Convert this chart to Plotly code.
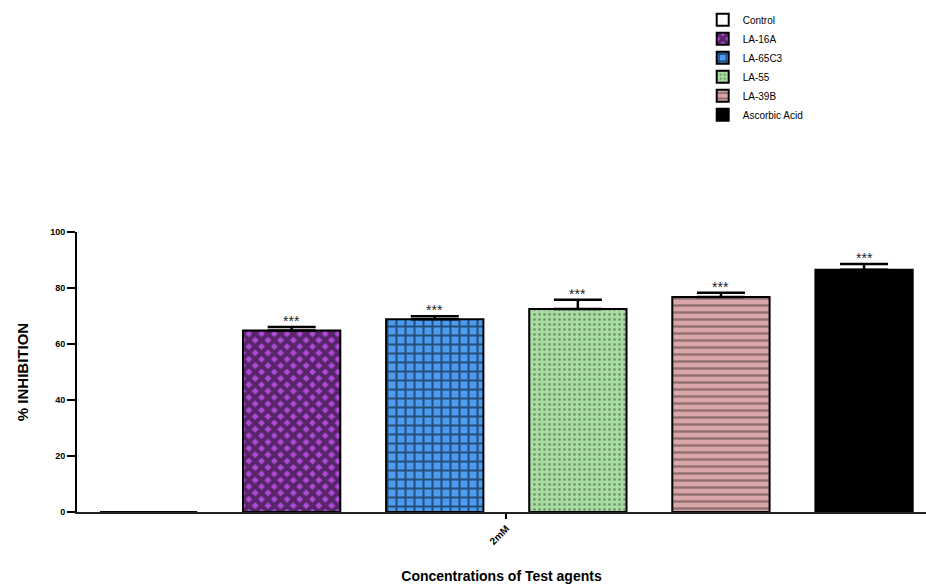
import plotly.graph_objects as go

# Test agents, % inhibition at 2 mM (mean and SEM)
agents = ["Control", "LA-16A", "LA-65C3", "LA-55", "LA-39B", "Ascorbic Acid"]
inhibition = [0.0, 64.8, 68.8, 72.5, 76.8, 86.5]
sem = [0.0, 1.3, 1.1, 3.3, 1.5, 2.1]
significance = ["", "***", "***", "***", "***", "***"]
concentration = ["2mM"]
y_ticks = [0, 20, 40, 60, 80, 100]

fill_bg = ["white", "#b04ad6", "#4b9cf0", "#a9dda3", "#d9a7a9", "black"]
fill_fg = ["white", "black", "black", "#3c5a3a", "#4a3838", "black"]
shapes = ["", "x", "+", ".", "-", ""]
sizes = [8, 9, 9, 5, 7, 8]
solidity = [0.3, 0.72, 0.4, 0.25, 0.35, 0.3]

fig = go.Figure()
for i, name in enumerate(agents):
    fig.add_trace(go.Bar(
        name=name,
        x=concentration,
        y=[inhibition[i]],
        # only the upper arm of the SEM bar is drawn above the column
        error_y=dict(type="data", symmetric=False, array=[sem[i]], arrayminus=[0],
                     visible=sem[i] > 0, color="black", thickness=2.5, width=24),
        marker=dict(
            color=fill_bg[i],
            line=dict(color="black", width=2),
            pattern=dict(shape=shapes[i], fgcolor=fill_fg[i], bgcolor=fill_bg[i],
                         size=sizes[i], solidity=solidity[i], fillmode="overlay"),
        ),
    ))

# significance stars above each error bar, at the grouped bar centres
n = len(agents)
for i, mark in enumerate(significance):
    if not mark:
        continue
    fig.add_annotation(
        x=-0.5 + (i + 0.5) / n, y=inhibition[i] + sem[i], xref="x", yref="y",
        text=mark, showarrow=False, yanchor="bottom", yshift=-4,
        font=dict(family="Liberation Sans, Arial", size=14, color="#222"),
    )

fig.update_layout(
    width=926, height=584,
    margin=dict(l=77, r=0, t=232, b=72),
    paper_bgcolor="white", plot_bgcolor="white",
    barmode="group", bargap=0.0, bargroupgap=0.32,
    font=dict(family="Liberation Sans, Arial", color="black"),
    showlegend=True,
    legend=dict(x=0.737, y=1.81, xanchor="left", yanchor="top",
                font=dict(size=10), tracegroupgap=0, itemwidth=30,
                bgcolor="rgba(0,0,0,0)"),
)
fig.update_xaxes(
    type="category", range=[-0.5, -0.5 + 849 / 858.6],
    showline=True, linecolor="#222", linewidth=1.5,
    ticks="outside", ticklen=5, tickwidth=2, tickcolor="black",
    tickangle=-45, tickfont=dict(size=10, weight="bold"),
    showgrid=False, zeroline=False,
    title=dict(text="Concentrations of Test agents", standoff=26,
               font=dict(size=14, weight="bold")),
)
fig.update_yaxes(
    range=[0, 100], tickvals=y_ticks,
    showline=True, linecolor="black", linewidth=2,
    ticks="outside", ticklen=8, tickwidth=2, tickcolor="black",
    tickfont=dict(size=9, weight="bold"),
    showgrid=False, zeroline=False,
    title=dict(text="% INHIBITION", standoff=18,
               font=dict(size=15, weight="bold")),
)

fig.write_html("out.html")
